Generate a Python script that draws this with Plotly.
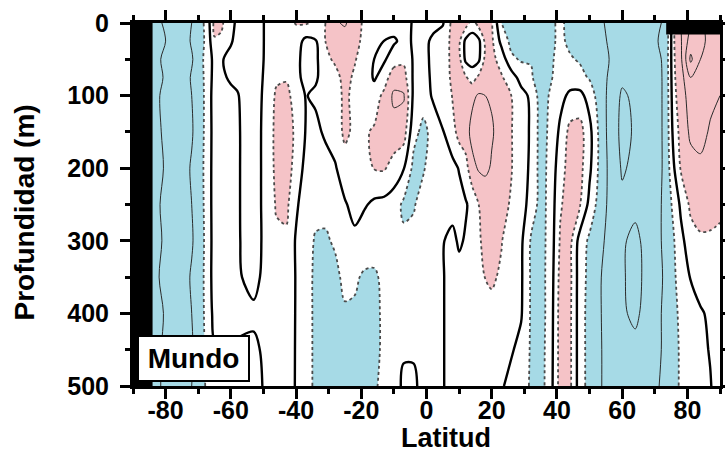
import numpy as np
import plotly.graph_objects as go

# Zonal-mean anomaly section: latitude (deg) x depth (m)
LATITUDE = [-90, -86, -84, -80, -76, -72, -69, -67, -65, -63,
            -60, -58, -53, -48, -46, -43, -40, -37, -34, -31,
            -28, -25, -22, -19, -16, -13, -10, -7, -4, -1,
            2, 5, 8, 10, 12, 14, 16, 18, 20, 23,
            26, 29, 32, 35, 38, 41, 44, 47, 50, 53,
            56, 60, 64, 68, 72, 74, 76, 78, 81, 84,
            87, 90]
DEPTH = [0, 25, 50, 75, 100, 150, 200, 250, 300, 350, 400, 450, 500]

# One profile per latitude, values listed from the surface down to 500 m
PROFILES = [
    [-1.8, -1.8, -1.8, -1.8, -1.8, -1.8, -1.8, -1.8, -1.8, -1.8, -1.8, -1.8, -1.8],   # -90
    [-1.8, -1.8, -1.8, -1.8, -1.8, -1.8, -1.8, -1.8, -1.8, -1.8, -1.8, -1.8, -1.8],   # -86
    [-1.5, -1.6, -1.5, -1.6, -1.5, -1.6, -1.5, -1.6, -1.5, -1.6, -1.5, -1.6, -1.5],   # -84
    [-2.2, -2.0, -2.3, -2.1, -2.4, -2.2, -2.1, -2.3, -2.2, -2.4, -2.1, -2.2, -2.3],   # -80
    [-2.6, -2.7, -2.5, -2.8, -2.6, -2.7, -2.6, -2.5, -2.7, -2.6, -2.8, -2.6, -2.7],   # -76
    [-2.0, -1.9, -2.1, -1.9, -2.0, -2.1, -1.9, -2.0, -2.1, -1.9, -2.0, -2.1, -2.0],   # -72
    [-1.3, -1.35, -1.25, -1.3, -1.35, -1.3, -1.25, -1.3, -1.35, -1.3, -1.3, -1.35, -1.4],  # -69
    [-0.4, -0.5, -0.3, -0.4, -0.4, -0.45, -0.4, -0.4, -0.45, -0.4, -0.5, -0.6, -0.7],  # -67
    [1.3, 0.9, 0.2, 0.3, 0.4, 0.4, 0.4, 0.4, 0.4, 0.4, 0.3, -0.1, -0.4],             # -65
    [1.2, 0.8, 0.1, 0.2, 0.4, 0.5, 0.5, 0.5, 0.5, 0.45, 0.3, -0.1, -0.4],            # -63
    [0.3, 0.1, -0.3, -0.15, 0.25, 0.3, 0.3, 0.3, 0.3, 0.3, 0.25, -0.1, -0.4],         # -60
    [-0.2, -0.3, -0.4, -0.15, 0.05, 0.1, 0.1, 0.1, 0.1, 0.1, 0.2, -0.1, -0.4],        # -58
    [-0.5, -0.5, -0.55, -0.5, -0.5, -0.5, -0.5, -0.5, -0.45, -0.25, 0.15, -0.15, -0.4],  # -53
    [0.3, 0.3, 0.35, 0.4, 0.5, 0.6, 0.6, 0.6, 0.5, 0.4, 0.35, 0.25, 0.35],            # -48
    [0.5, 0.55, 0.6, 0.8, 1.2, 1.35, 1.3, 1.1, 0.8, 0.6, 0.5, 0.4, 0.4],              # -46
    [0.7, 0.65, 0.7, 0.9, 1.3, 1.5, 1.5, 1.25, 0.8, 0.6, 0.5, 0.4, 0.35],             # -43
    [1.05, 0.5, 0.4, 0.4, 0.55, 0.8, 0.6, 0.15, -0.1, -0.05, -0.05, -0.05, -0.05],    # -40
    [1.1, -0.3, -0.55, -0.45, -0.05, -0.05, -0.3, -0.5, -0.6, -0.6, -0.6, -0.6, -0.6],  # -37
    [0.85, -0.1, -0.25, -0.15, 0.2, -0.3, -0.6, -0.7, -1.1, -1.2, -1.2, -1.2, -1.2],  # -34
    [1.0, 1.0, 0.85, 0.5, 0.5, 0.2, -0.5, -0.8, -1.1, -1.3, -1.3, -1.3, -1.3],        # -31
    [1.9, 1.5, 1.1, 0.8, 0.7, 0.5, -0.1, -0.6, -0.9, -1.2, -1.3, -1.3, -1.2],         # -28
    [2.1, 1.6, 1.3, 1.2, 1.15, 1.2, 0.6, -0.1, -0.6, -0.8, -1.1, -1.3, -1.3],         # -25
    [1.5, 1.3, 1.05, 0.9, 0.8, 0.8, 0.55, 0.35, -0.25, -0.9, -1.1, -1.2, -1.2],       # -22
    [0.8, 0.75, 0.7, 0.7, 0.85, 0.9, 0.55, 0.1, -0.6, -1.1, -1.2, -1.2, -1.1],        # -19
    [0.6, 0.6, -0.02, -0.15, 0.6, 1.1, 1.05, -0.2, -0.7, -1.1, -1.2, -1.2, -1.1],     # -16
    [0.6, -0.02, -0.15, 0.6, 1.2, 1.3, 1.1, -0.3, -0.8, -0.85, -0.85, -0.85, -0.8],   # -13
    [0.5, -0.15, 0.6, 1.5, 2.2, 1.6, 0.6, -0.5, -0.9, -0.8, -0.7, -0.7, -0.6],        # -10
    [0.4, 0.3, 0.8, 1.4, 2.1, 1.5, 0.05, -1.2, -0.8, -0.6, -0.5, -0.15, 0.25],        # -7
    [-0.1, -0.1, -0.1, -0.15, -0.2, -0.7, -1.25, -1.1, -0.7, -0.5, -0.4, -0.15, 0.25],  # -4
    [-0.3, -0.3, -0.35, -0.4, -0.6, -1.25, -1.1, -0.6, -0.5, -0.5, -0.45, -0.4, -0.4],  # -1
    [-0.3, 0.2, 0.25, 0.2, 0.15, -0.7, -0.5, -0.4, -0.4, -0.45, -0.4, -0.4, -0.45],   # 2
    [-0.1, 0.6, 0.6, 0.6, 0.5, -0.05, -0.3, -0.3, -0.05, -0.05, -0.05, -0.05, -0.05], # 5
    [1.3, 1.2, 1.2, 1.15, 1.05, 0.6, -0.25, -0.35, 0.25, 0.3, 0.3, 0.3, 0.3],         # 8
    [1.4, 1.2, 1.3, 1.3, 1.3, 1.4, 0.05, -0.3, -0.15, 0.35, 0.35, 0.35, 0.35],        # 10
    [1.5, -0.25, -0.2, 1.1, 1.5, 1.6, 0.6, -0.1, 0.1, 0.4, 0.4, 0.4, 0.4],            # 12
    [0.6, -0.5, -0.45, 0.6, 1.8, 2.3, 1.7, 0.3, 0.5, 0.5, 0.5, 0.5, 0.5],             # 14
    [1.4, -0.25, -0.2, 1.2, 2.1, 2.4, 2.1, 1.0, 0.9, 0.7, 0.55, 0.5, 0.5],            # 16
    [1.3, 1.2, 1.25, 1.4, 2.0, 2.3, 2.2, 1.3, 1.2, 1.02, 0.6, 0.5, 0.45],             # 18
    [1.1, 1.2, 1.3, 1.5, 1.9, 2.1, 1.9, 1.4, 1.2, 1.15, 0.7, 0.5, 0.4],               # 20
    [-1.0, -0.3, 0.6, 1.1, 1.5, 1.6, 1.5, 1.3, 1.05, 0.85, 0.6, 0.4, 0.1],            # 23
    [-1.5, -1.3, -0.8, 0.5, 1.0, 1.05, 1.05, 0.9, 0.4, 0.4, 0.4, 0.1, -0.3],          # 26
    [-1.3, -1.2, -1.1, -0.4, 0.4, 0.4, 0.4, 0.35, 0.2, 0.15, 0.1, -0.3, -0.6],        # 29
    [-1.1, -1.1, -1.05, -0.9, -0.2, -0.1, -0.15, -0.3, -1.1, -1.1, -1.1, -1.1, -1.1], # 32
    [-1.4, -1.4, -1.4, -1.4, -1.45, -1.4, -1.4, -1.4, -1.4, -1.4, -1.45, -1.4, -1.4], # 35
    [-1.2, -1.2, -1.15, -1.1, -0.9, -0.8, -0.7, -0.65, -0.6, -0.55, -0.5, -0.45, -0.4],  # 38
    [-0.8, -0.8, -0.7, -0.6, -0.3, 0.2, 0.6, 0.9, 1.1, 1.3, 1.4, 1.4, 1.4],           # 41
    [-1.3, -1.2, -0.9, -0.5, 0.2, 1.3, 1.4, 1.4, 1.3, 1.25, 1.2, 1.2, 1.2],           # 44
    [-1.5, -1.3, -1.1, -0.7, 0.3, 1.4, 1.35, 1.1, -0.4, -0.5, -0.5, -0.5, -0.5],      # 47
    [-1.6, -1.5, -1.3, -1.1, -0.4, 0.3, 0.2, -0.3, -1.2, -1.3, -1.4, -1.4, -1.4],     # 50
    [-1.8, -1.7, -1.6, -1.6, -1.5, -1.2, -1.2, -1.4, -1.7, -1.9, -1.9, -1.9, -1.9],   # 53
    [-2.2, -2.1, -2.0, -2.1, -2.2, -2.3, -2.2, -2.2, -2.3, -2.4, -2.4, -2.3, -2.3],   # 56
    [-2.4, -2.5, -2.6, -2.8, -3.15, -3.25, -3.1, -2.8, -2.9, -2.9, -2.9, -2.7, -2.6], # 60
    [-2.4, -2.5, -2.6, -2.7, -2.8, -2.9, -2.8, -2.8, -3.2, -3.3, -3.15, -2.8, -2.6],  # 64
    [-2.3, -2.3, -2.4, -2.5, -2.6, -2.6, -2.6, -2.6, -2.7, -2.7, -2.7, -2.6, -2.5],   # 68
    [-2.0, -1.9, -2.0, -2.1, -2.1, -2.1, -2.1, -2.0, -2.0, -2.1, -2.0, -2.0, -1.9],   # 72
    [-1.1, -1.1, -1.05, -1.1, -1.15, -1.2, -1.3, -1.4, -1.5, -1.6, -1.7, -1.7, -1.7], # 74
    [1.0, 1.0, 0.95, 0.9, 0.8, 0.5, 0.0, -0.7, -1.0, -1.1, -1.2, -1.2, -1.2],         # 76
    [2.0, 1.9, 1.8, 1.6, 1.5, 1.3, 1.1, 0.2, -0.3, -0.6, -0.8, -0.9, -0.9],           # 78
    [3.0, 3.5, 4.2, 3.0, 2.5, 2.2, 1.6, 1.2, 0.6, 0.05, -0.4, -0.6, -0.6],            # 81
    [3.2, 3.3, 3.0, 2.8, 2.6, 2.3, 1.8, 1.3, 0.9, 0.4, -0.1, -0.2, -0.3],             # 84
    [2.6, 2.7, 2.6, 2.4, 2.2, 1.9, 1.6, 1.25, 0.9, 0.5, 0.15, 0.05, -0.05],           # 87
    [2.4, 2.5, 2.4, 2.2, 2.0, 1.8, 1.5, 1.2, 0.8, 0.6, 0.5, 0.4, 0.4],                # 90
]

X_TICKS = [-80, -60, -40, -20, 0, 20, 40, 60, 80]
Y_TICKS = [0, 100, 200, 300, 400, 500]

ANTARCTIC_EDGE = -84          # no ocean south of this latitude
ARCTIC_ICE_LAT = 73.5         # surface ice cover north of this latitude...
ARCTIC_ICE_DEPTH = 16         # ...down to this depth

REGION = "Mundo"

z = np.array(PROFILES).T

BLUE = "#a6dae6"
PINK = "#f5c3c7"
FONT = "Liberation Sans"

fig = go.Figure()

# shaded bands: below -1 blue, between -1 and 1 white, above 1 pink
fig.add_trace(go.Contour(
    x=LATITUDE, y=DEPTH, z=z, autocontour=False,
    contours=dict(start=-1, end=1, size=2, coloring="fill", showlines=False),
    colorscale=[[0, BLUE], [0.33, BLUE], [0.33, "white"], [0.67, "white"],
                [0.67, PINK], [1, PINK]],
    line=dict(width=0, smoothing=0.9), showscale=False, hoverinfo="skip"))


def isolines(start, end, size, color, width, dash):
    return go.Contour(
        x=LATITUDE, y=DEPTH, z=z, autocontour=False,
        contours=dict(start=start, end=end, size=size, coloring="none"),
        line=dict(color=color, width=width, dash=dash, smoothing=0.9),
        showscale=False, hoverinfo="skip")


fig.add_trace(isolines(2, 5, 1, "#2a2a2a", 1.0, "solid"))
fig.add_trace(isolines(-5, -2, 1, "#2a2a2a", 1.0, "solid"))
fig.add_trace(isolines(-1, 1, 2, "#4a4a4a", 1.8, "dot"))
fig.add_trace(isolines(0, 0.5, 1, "black", 2.4, "solid"))

fig.add_shape(type="rect", xref="x", yref="y", x0=-90, x1=ANTARCTIC_EDGE,
              y0=0, y1=500, fillcolor="black", line_width=0, layer="above")
fig.add_shape(type="rect", xref="x", yref="y", x0=ARCTIC_ICE_LAT, x1=90,
              y0=0, y1=ARCTIC_ICE_DEPTH, fillcolor="black", line_width=0, layer="above")

tick_font = dict(family=FONT, size=25, color="black", weight="bold")

fig.update_xaxes(
    range=[-90, 90], tickvals=X_TICKS, ticktext=[str(v) for v in X_TICKS],
    ticks="outside", ticklen=10, tickwidth=2.5, tickcolor="black",
    minor=dict(dtick=10, tick0=0, ticks="outside", ticklen=5, tickwidth=2.5, tickcolor="black"),
    showline=True, linewidth=3, linecolor="black", mirror="ticks", automargin=False,
    showgrid=False, zeroline=False, tickfont=tick_font, ticklabelstandoff=-10)
fig.update_yaxes(
    range=[500, 0], tickvals=Y_TICKS, ticktext=[str(v) for v in Y_TICKS],
    ticks="outside", ticklen=10, tickwidth=2.5, tickcolor="black",
    minor=dict(dtick=50, tick0=0, ticks="outside", ticklen=5, tickwidth=2.5, tickcolor="black"),
    showline=True, linewidth=3, linecolor="black", mirror="ticks", automargin=False,
    showgrid=False, zeroline=False, tickfont=tick_font, ticklabelstandoff=6)

fig.add_annotation(xref="paper", yref="paper", x=0.533, y=-0.143,
                   text="Latitud", showarrow=False, xanchor="center", yanchor="middle",
                   font=dict(family=FONT, size=27, color="black", weight="bold"))
fig.add_annotation(xref="paper", yref="paper", x=-0.185, y=0.479, textangle=-90,
                   text="Profundidad (m)", showarrow=False, xanchor="center", yanchor="middle",
                   font=dict(family=FONT, size=28, color="black", weight="bold"))
fig.add_annotation(xref="paper", yref="paper", x=0.007, y=0.012,
                   text=REGION, showarrow=False, xanchor="left", yanchor="bottom",
                   width=105, height=39, borderpad=2, borderwidth=2, bordercolor="black",
                   bgcolor="white",
                   font=dict(family=FONT, size=28, color="black", weight="bold"))

fig.update_layout(
    width=725, height=454, margin=dict(l=133, r=5, t=23, b=68),
    paper_bgcolor="white", plot_bgcolor="white", showlegend=False)

fig.write_html("out.html")
